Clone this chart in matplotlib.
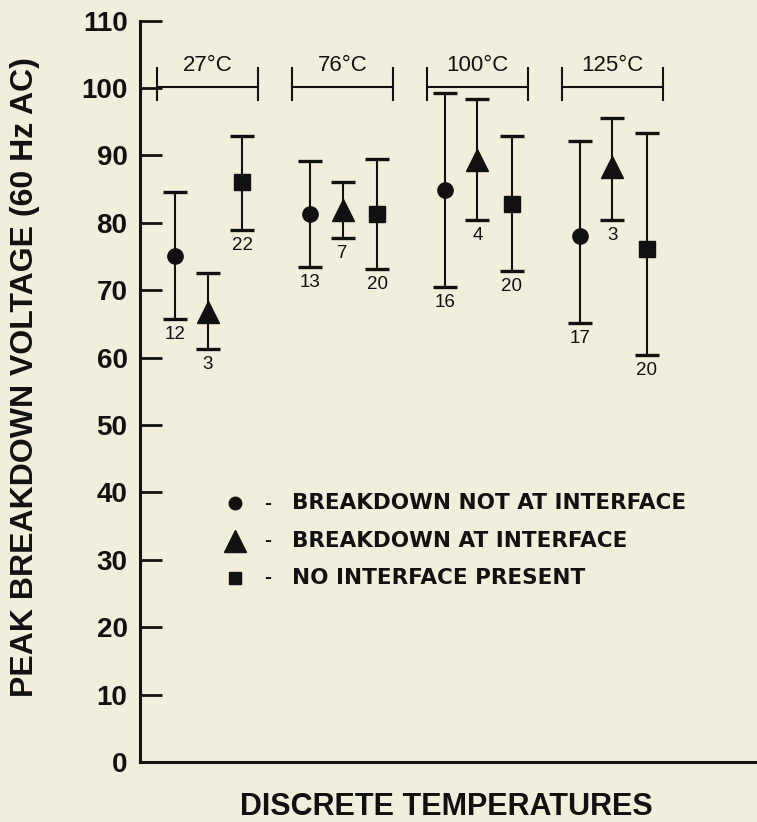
import matplotlib
matplotlib.use("Agg")
import matplotlib.pyplot as plt
import numpy as np

temps = ["27°C", "76°C", "100°C", "125°C"]

# breakdown not at interface
circ_mean = [75.0, 81.3, 84.8, 78.0]
circ_hi = [84.6, 89.1, 99.2, 92.2]
circ_lo = [65.7, 73.5, 70.4, 65.1]
circ_n = [12, 13, 16, 17]

# breakdown at interface
tri_mean = [66.8, 81.9, 89.3, 88.3]
tri_hi = [72.6, 86.0, 98.4, 95.5]
tri_lo = [61.2, 77.8, 80.4, 80.4]
tri_n = [3, 7, 4, 3]

# no interface present
sq_mean = [86.1, 81.3, 82.8, 76.1]
sq_hi = [92.8, 89.5, 92.9, 93.3]
sq_lo = [78.9, 73.1, 72.9, 60.4]
sq_n = [22, 20, 20, 20]

legend_labels = ["BREAKDOWN NOT AT INTERFACE", "BREAKDOWN AT INTERFACE",
                 "NO INTERFACE PRESENT"]

bg = "#f2eedc"
ink = "#111111"
plt.rcParams['font.family'] = ['Liberation Sans', 'DejaVu Sans']

fig = plt.figure(figsize=(7.57, 8.22), dpi=100, facecolor=bg)
ax = fig.add_axes([0.185, 0.073, 0.815, 0.902])
ax.set_facecolor(bg)

groups = np.arange(len(temps))
series = [
    (circ_mean, circ_lo, circ_hi, circ_n, 'o', 11, -0.242),
    (tri_mean, tri_lo, tri_hi, tri_n, '^', 16, 0.0),
    (sq_mean, sq_lo, sq_hi, sq_n, 's', 11, 0.255),
]

for mean, lo, hi, n, mk, ms, off in series:
    x = groups + off
    mean = np.array(mean)
    yerr = [mean - np.array(lo), np.array(hi) - mean]
    ax.errorbar(x, mean, yerr=yerr, fmt=mk, ms=ms, color=ink,
                ecolor=ink, elinewidth=1.5, capsize=8.3,
                capthick=2.4, zorder=3)
    for xi, l, cnt in zip(x, lo, n):
        ax.annotate(str(cnt), (xi, l), xytext=(0, -5), textcoords='offset points',
                    ha='center', va='top', fontsize=13.5, color=ink)

# temperature brackets
half = 0.375
for g, t in zip(groups, temps):
    ax.plot([g - half, g + half], [100.2, 100.2], color=ink, lw=1.5)
    ax.plot([g - half, g - half], [98.2, 102.9], color=ink, lw=1.5)
    ax.plot([g + half, g + half], [98.2, 102.9], color=ink, lw=1.5)
    ax.text(g, 103.3, t, ha='center', va='center', fontsize=16, color=ink)

# legend drawn by hand
leg_y = [38.4, 32.8, 27.3]
leg_mk = [('o', 9), ('^', 16), ('s', 8)]
for yy, (mk, ms), lab in zip(leg_y, leg_mk, legend_labels):
    ax.plot(0.2, yy, marker=mk, ms=ms, color=ink, ls='none')
    ax.text(0.446, yy, "-", ha='center', va='center', fontsize=15,
            fontweight='bold', color=ink)
    ax.text(0.625, yy, lab, ha='left', va='center', fontsize=15.5,
            fontweight='bold', color=ink, family='DejaVu Sans')

ax.set_xlim(-0.503, 4.074)
ax.set_ylim(0, 110)
ax.set_yticks(np.arange(0, 111, 10))
ax.set_xticks([])
for s in ['top', 'right']:
    ax.spines[s].set_visible(False)
for s in ['left', 'bottom']:
    ax.spines[s].set_linewidth(2.2)
    ax.spines[s].set_color(ink)
ax.tick_params(axis='y', direction='in', length=16, width=2, colors=ink,
               labelsize=20, pad=9)
for lbl in ax.get_yticklabels():
    lbl.set_fontweight('bold')

fig.text(0.033, 0.541, "PEAK BREAKDOWN VOLTAGE (60 Hz AC)", rotation=90,
         ha='center', va='center', fontsize=23, fontweight='bold', color=ink)
fig.text(0.59, 0.018, "DISCRETE TEMPERATURES", ha='center', va='center',
         fontsize=22, fontweight='bold', color=ink)

fig.savefig("out.png", dpi=100, facecolor=bg)
